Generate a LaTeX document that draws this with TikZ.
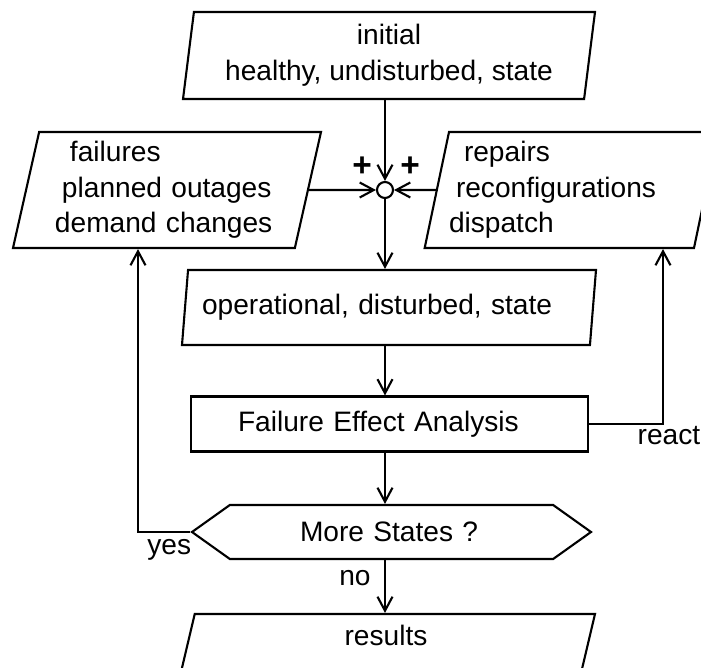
\documentclass[tikz,border=0pt]{standalone}
\usepackage{fontspec}
\setmainfont{Liberation Sans}
\usetikzlibrary{shapes.geometric,shapes.symbols,arrows.meta}

\begin{document}
\begin{tikzpicture}[line width=1.2pt,>={Straight Barb[length=2.8mm,width=3mm]},
  every node/.style={font=\fontsize{16}{20.3}\selectfont},
  io/.style={draw,trapezium,trapezium stretches body=true,inner sep=0pt},
  box/.style={draw,rectangle,inner sep=0pt},
  plus/.style={font=\fontsize{19}{20}\selectfont\bfseries,inner sep=0pt}]
  \clip (0,0) rectangle (14.02,-13.36);
  % data boxes
  \node[io,trapezium left angle=80,trapezium right angle=100,minimum width=8.24cm,minimum height=1.74cm,align=center] (init) at (7.78,-1.11) {initial\\healthy, undisturbed, state};
  \node[io,trapezium left angle=75,trapezium right angle=105,minimum width=6.16cm,minimum height=2.32cm,text width=4.48cm,align=left] (fail) at (3.34,-3.8) {\hspace*{0.3cm}failures\\\hspace*{0.14cm}planned outages\\demand changes};
  \node[io,trapezium left angle=76,trapezium right angle=104,minimum width=5.7cm,minimum height=2.32cm,text width=4.9cm,align=left] (repair) at (11.43,-3.8) {\hspace*{0.3cm}repairs\\\hspace*{0.14cm}reconfigurations\\dispatch};
  \node[draw,circle,minimum size=0.32cm,inner sep=0pt] (sum) at (7.7,-3.8) {};
  \node[plus] (pl) at (7.24,-3.34) {+};
  \node[plus] (pr) at (8.2,-3.34) {+};
  \node[io,trapezium left angle=77,trapezium right angle=103,minimum width=8.28cm,minimum height=1.5cm,text width=7.48cm,align=left] (oper) at (7.78,-6.15) {operational, disturbed, state};
  % process and decision
  \node[box,minimum width=7.94cm,minimum height=1.1cm,text width=6.06cm,align=left] (fea) at (7.79,-8.48) {Failure Effect Analysis};
  \node[draw,signal,signal to=west and east,signal pointer angle=71,minimum width=7.98cm,minimum height=1.08cm,inner sep=0pt,text width=3.66cm,align=left] (more) at (7.83,-10.64) {More States ?};
  \node[io,trapezium left angle=73,trapezium right angle=107,minimum width=8.36cm,minimum height=1.5cm,text height=0.45cm,text depth=0.71cm,align=center] (res) at (7.72,-13.03) {results};
  % connectors
  \coordinate (rx) at (13.26,0);
  \coordinate (yx) at (2.76,0);
  \draw[->] (init.south -| sum) -- (sum);
  \draw[->] (fail.east) -- (sum);
  \draw[->] (repair.west) -- (sum);
  \draw[->] (sum) -- (oper.north -| sum);
  \draw[->] (oper.south -| sum) -- (fea.north -| sum);
  \draw[->] (fea.south -| sum) -- (more.north -| sum);
  \draw[->] (more.south -| sum) -- node[left,pos=0.35,xshift=-0.15cm]{no} (res.north -| sum);
  \draw[->] (fea.east) -| node[pos=0.5,below,xshift=0.12cm,inner sep=1pt]{react} (rx |- repair.south);
  \draw[->] (more.west) -| node[pos=0.2,below,inner sep=3.5pt]{yes} (yx |- fail.south);
\end{tikzpicture}
\end{document}
